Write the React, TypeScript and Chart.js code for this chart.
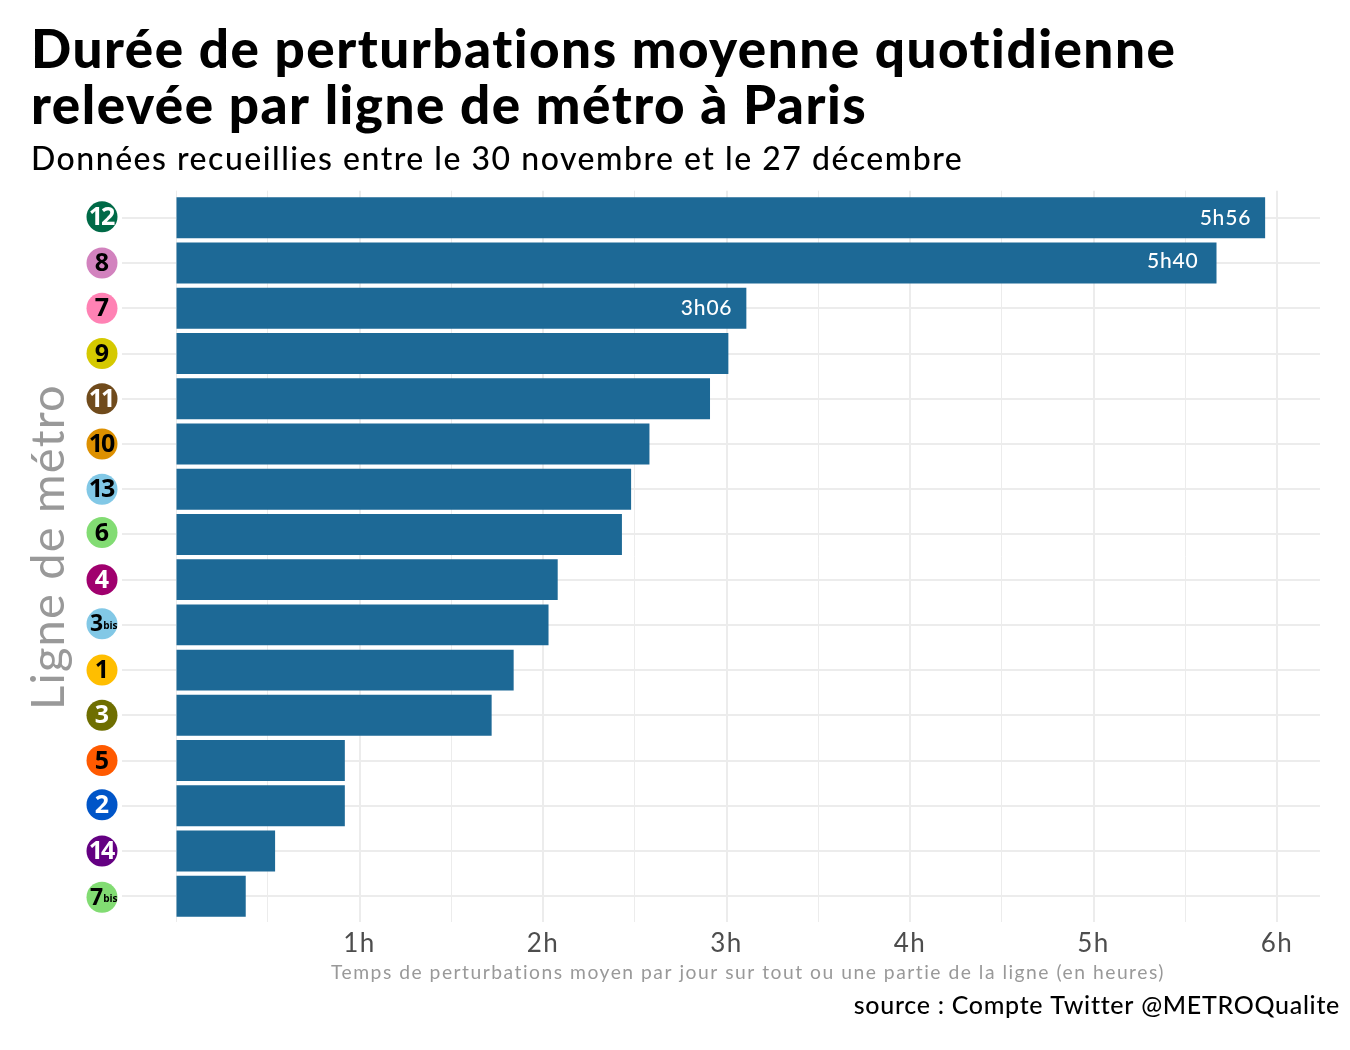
import React, { useEffect, useRef } from "react";
import { Chart, registerables } from "chart.js";

Chart.register(...registerables);

const lines = ["12", "8", "7", "9", "11", "10", "13", "6", "4", "3bis", "1", "3", "5", "2", "14", "7bis"];
const hours = [5.935, 5.67, 3.108, 3.01, 2.91, 2.58, 2.48, 2.43, 2.08, 2.03, 1.84, 1.72, 0.92, 0.92, 0.54, 0.38];
const valueLabels = ["5h56", "5h40", "3h06"];
const lineColors = ["#006A47", "#D282BE", "#FF82B4", "#D5C900", "#704B1C", "#DD9000", "#82C8E6", "#82DC73", "#A0006E", "#82C8E6", "#FFBE00", "#6E6E00", "#FF5A00", "#0055C8", "#640082", "#82DC73"];
const lineTextColors = ["#fff", "#000", "#000", "#000", "#fff", "#000", "#000", "#000", "#fff", "#000", "#000", "#fff", "#000", "#fff", "#fff", "#000"];
const iconOffsets = [-1, 0, 0, 0, 0, 0, 0, -2, 0, -1, 0, 0, 0, -1, 0, 1];
const xTicks = [0, 0.5, 1, 1.5, 2, 2.5, 3, 3.5, 4, 4.5, 5, 5.5, 6];

const titleLines = ["Durée de perturbations moyenne quotidienne", "relevée par ligne de métro à Paris"];
const subtitleText = "Données recueillies entre le 30 novembre et le 27 décembre";
const xTitleText = "Temps de perturbations moyen par jour sur tout ou une partie de la ligne (en heures)";
const yTitleText = "Ligne de métro";
const sourceText = "source : Compte Twitter @METROQualite";

const FONT = "Lato, 'Noto Sans', sans-serif";
const GRID = "#ececec";

const overlay = {
  id: "overlay",
  beforeDraw(chart: any) {
    chart.ctx.letterSpacing = "1.5px";
  },
  afterDraw(chart: any) {
    const { ctx, scales } = chart;
    const y = scales.y;
    const x = scales.x;
    ctx.save();
    ctx.letterSpacing = "0px";
    lines.forEach((name, i) => {
      const cy = y.getPixelForValue(i + 1) + iconOffsets[i];
      const cx = 102;
      ctx.beginPath();
      ctx.arc(cx, cy, 15.5, 0, Math.PI * 2);
      ctx.fillStyle = lineColors[i];
      ctx.fill();
      ctx.fillStyle = lineTextColors[i];
      ctx.textBaseline = "middle";
      if (name.endsWith("bis")) {
        const base = name.replace("bis", "");
        ctx.textAlign = "left";
        ctx.font = "700 23px 'Open Sans'";
        const w = ctx.measureText(base).width;
        ctx.fillText(base, cx - 12, cy + 1);
        ctx.font = "700 10px 'Open Sans'";
        ctx.fillText("bis", cx - 12 + w, cy + 2);
      } else {
        ctx.textAlign = "center";
        ctx.font = "700 25px 'Open Sans'";
        ctx.letterSpacing = name.length > 1 ? "-2px" : "0px";
        ctx.fillText(name, cx - (name.length > 1 ? 1 : 0), cy + 1);
        ctx.letterSpacing = "0px";
      }
    });
    ctx.fillStyle = "#fff";
    ctx.textAlign = "right";
    ctx.textBaseline = "middle";
    ctx.font = `500 21px ${FONT}`;
    ctx.letterSpacing = "0.8px";
    valueLabels.forEach((label, i) => {
      ctx.fillText(label, x.getPixelForValue(hours[i]) - (i === 1 ? 18 : 14), y.getPixelForValue(i + 1) - (i === 1 ? 2 : 0));
    });
    ctx.fillStyle = "#000";
    ctx.font = `500 25px ${FONT}`;
    ctx.letterSpacing = "0.7px";
    ctx.textAlign = "right";
    ctx.fillText(sourceText, 1340, 1006);
    ctx.translate(49, 547);
    ctx.rotate(-Math.PI / 2);
    ctx.textAlign = "center";
    ctx.fillStyle = "#999999";
    ctx.font = `400 47px ${FONT}`;
    ctx.letterSpacing = "1.2px";
    ctx.fillText(yTitleText, 0, 0);
    ctx.restore();
    ctx.letterSpacing = "0px";
  },
};

export default function App() {
  const ref = useRef<HTMLCanvasElement | null>(null);
  useEffect(() => {
    const chart = new Chart(ref.current as HTMLCanvasElement, {
      type: "bar",
      data: {
        datasets: [
          {
            label: "Durée moyenne",
            data: hours.map((h, i) => ({ x: h, y: i + 1 })),
            backgroundColor: "#1D6996",
            categoryPercentage: 1,
            barPercentage: 0.905,
          },
        ],
      },
      plugins: [overlay],
      options: {
        indexAxis: "y",
        responsive: false,
        animation: false,
        devicePixelRatio: 1,
        layout: { padding: { left: 31, right: 30, top: 23, bottom: 0 } },
        plugins: {
          legend: { display: false },
          tooltip: { enabled: false },
          title: {
            display: true,
            text: titleLines,
            align: "start",
            color: "#000",
            font: { family: FONT, size: 53, weight: "900", lineHeight: 1.05 },
            padding: { top: 0, bottom: 0 },
          },
          subtitle: {
            display: true,
            text: subtitleText,
            align: "start",
            color: "#000",
            font: { family: FONT, size: 32, weight: "500", lineHeight: 1.2 },
            padding: { top: 6, bottom: 12 },
          },
        },
        scales: {
          x: {
            type: "linear",
            position: "bottom",
            min: 0,
            max: 6.234,
            afterBuildTicks: (s: any) => {
              s.ticks = xTicks.map((value) => ({ value }));
            },
            afterFit: (s: any) => {
              s.height = 128;
            },
            grid: {
              color: GRID,
              lineWidth: (c: any) => (c.tick && Number.isInteger(c.tick.value) && c.tick.value > 0 ? 2 : 1),
              drawTicks: false,
            },
            border: { display: false },
            ticks: {
              autoSkip: false,
              maxRotation: 0,
              padding: 6,
              color: "#4d4d4d",
              font: { family: FONT, size: 26 },
              callback: (v: any) => (Number.isInteger(v) && v > 0 ? `${v}h` : ""),
            },
            title: {
              display: true,
              text: xTitleText,
              color: "#999999",
              font: { family: FONT, size: 19.3 },
              padding: { top: 0, bottom: 66 },
            },
          },
          y: {
            type: "linear",
            reverse: true,
            min: 0.4,
            max: 16.57,
            offset: false,
            afterBuildTicks: (s: any) => {
              s.ticks = lines.map((_, i) => ({ value: i + 1 }));
            },
            afterFit: (s: any) => {
              s.width = 145;
            },
            grid: { color: GRID, lineWidth: 2, tickLength: 54, tickColor: GRID, offset: false },
            border: { display: false },
            ticks: { display: false },
          },
        },
      } as any,
    });
    return () => chart.destroy();
  }, []);
  return (
    <div style={{ position: "absolute", left: 0, top: 0, width: 1350, height: 1050, background: "#fff" }}>
      <canvas ref={ref} width={1350} height={1050} style={{ display: "block" }} />
    </div>
  );
}
